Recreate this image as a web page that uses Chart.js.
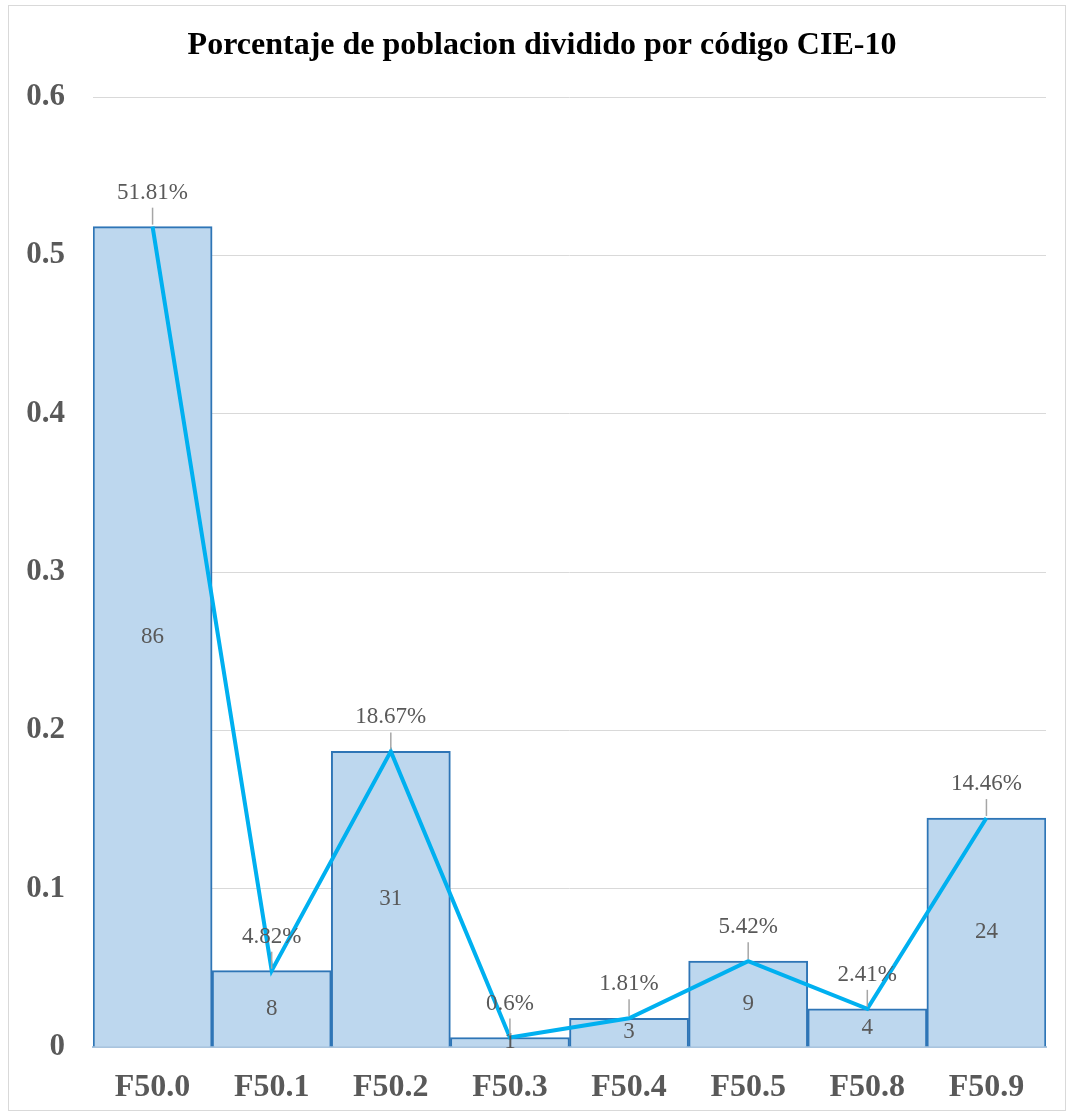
<!DOCTYPE html>
<html>
<head>
<meta charset="utf-8">
<script src="https://cdn.jsdelivr.net/npm/chart.js@4"></script>
<style>
  body { margin: 0; background: #fff; }
  #wrap { position: relative; width: 1070px; height: 1115px; }
  #frame { position: absolute; left: 8px; top: 5px; width: 1056px; height: 1104px; border: 1px solid #d9d9d9; pointer-events: none; }
</style>
</head>
<body>
<div id="wrap">
  <canvas id="myChart" width="1070" height="1115"></canvas>
  <div id="frame"></div>
</div>
<script>
// données
const categories = ['F50.0', 'F50.1', 'F50.2', 'F50.3', 'F50.4', 'F50.5', 'F50.8', 'F50.9']
const counts = [86, 8, 31, 1, 3, 9, 4, 24]
const percentages = [0.5181, 0.0482, 0.1867, 0.006, 0.0181, 0.0542, 0.0241, 0.1446]
const yTickLabels = ['0', '0.1', '0.2', '0.3', '0.4', '0.5', '0.6']

const serif = "'Liberation Serif', 'Times New Roman', serif"
const grey = '#595959'

// étiquettes : effectifs au centre des barres, pourcentages au-dessus de la ligne
const labelsPlugin = {
    id: 'labels',
    afterDatasetsDraw(chart) {
        const ctx = chart.ctx
        const bars = chart.getDatasetMeta(1).data
        ctx.save()
        ctx.font = '23px ' + serif
        ctx.fillStyle = grey
        ctx.textAlign = 'center'
        ctx.textBaseline = 'middle'
        bars.forEach((bar, i) => {
            ctx.fillText(String(counts[i]), bar.x, (bar.y + bar.base) / 2)

            const pct = parseFloat((percentages[i] * 100).toFixed(2)) + '%'
            ctx.strokeStyle = '#a6a6a6'
            ctx.lineWidth = 1.5
            ctx.beginPath()
            ctx.moveTo(bar.x, bar.y - 19)
            ctx.lineTo(bar.x, bar.y - 2)
            ctx.stroke()
            ctx.fillText(pct, bar.x, bar.y - 34)
        })
        ctx.restore()
    }
}

const ctx = document.getElementById('myChart').getContext('2d')
const myChart = new Chart(ctx, {
    type: 'bar',
    data: {
        labels: categories,
        datasets: [{
            type: 'line',
            data: percentages,
            borderColor: '#00B0F0',
            borderWidth: 4,
            pointRadius: 0,
            tension: 0,
            order: 0
        }, {
            type: 'bar',
            data: percentages,
            backgroundColor: '#BDD7EE',
            borderColor: '#2E75B6',
            borderWidth: 2,
            barPercentage: 1,
            categoryPercentage: 1,
            order: 1
        }]
    },
    options: {
        responsive: false,
        animation: false,
        layout: { padding: { left: 14, right: 0, top: 0, bottom: 0 } },
        plugins: {
            legend: { display: false },
            tooltip: { enabled: false },
            title: {
                display: true,
                text: 'Porcentaje de poblacion dividido por código CIE-10',
                color: '#000',
                font: { family: serif, size: 32, weight: 'bold', lineHeight: 1.2 },
                padding: { top: 27, bottom: 31.6 }
            }
        },
        scales: {
            x: {
                grid: { display: false, drawTicks: false },
                border: { display: true, color: '#a9c4de', width: 2 },
                ticks: {
                    color: grey,
                    padding: 22,
                    font: { family: serif, size: 32, weight: 'bold' }
                },
                afterFit: (scale) => { scale.height = 68 }
            },
            y: {
                min: 0,
                max: 0.6,
                grid: { color: '#d9d9d9', lineWidth: 1, drawTicks: false },
                border: { display: false },
                ticks: {
                    stepSize: 0.1,
                    color: grey,
                    padding: 28,
                    font: { family: serif, size: 31, weight: 'bold' },
                    callback: (value, index) => yTickLabels[index]
                },
                afterFit: (scale) => { scale.width = 79 }
            },
            // marge droite vide
            yRight: {
                position: 'right',
                grid: { display: false, drawTicks: false },
                border: { display: false },
                ticks: { display: false },
                afterFit: (scale) => { scale.width = 24 }
            }
        }
    },
    plugins: [labelsPlugin]
})
</script>
</body>
</html>
